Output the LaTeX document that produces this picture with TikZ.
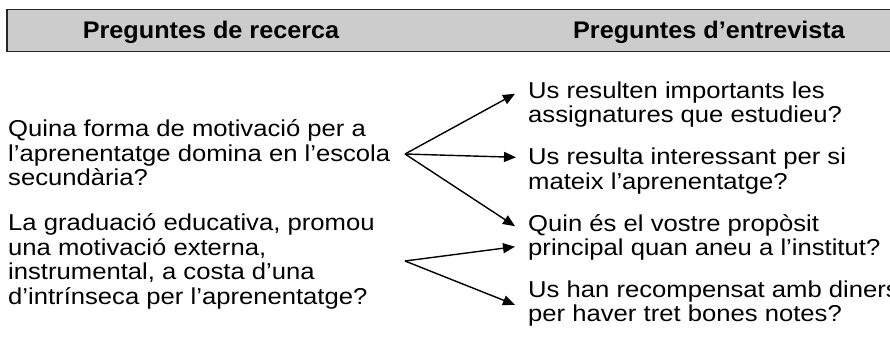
\documentclass[tikz,border=0pt]{standalone}
\usepackage{fontspec}
\setmainfont{Liberation Sans}[FakeStretch=1.115]
\newfontfamily\capfont{Liberation Sans}[FakeStretch=1.05]
\usetikzlibrary{positioning,calc,arrows.meta}

\begin{document}
\begin{tikzpicture}[x=1pt,y=-1pt,
        pregunta/.style={anchor=base west, align=left, inner sep=0pt,
            font=\fontsize{23}{24.5}\selectfont},
        capcal/.style={anchor=base, inner sep=0pt,
            font=\capfont\bfseries\fontsize{24}{28}\selectfont},
        fletxa/.style={line width=1.4pt, -{Triangle[length=12pt,width=10pt]}}]
        \useasboundingbox (0,0) rectangle (890,346);
        \draw[line width=1.5pt, draw=black!85, fill=black!20] (7,9.5) rectangle (894,51.5);
        \node[capcal] (cap1) at (211,38.5) {Preguntes de recerca};
        \node[capcal] (cap2) at (709,38.5) {Preguntes d’entrevista};

        % preguntes de recerca (base = darrera linia)
        \node[pregunta] (rec1) at (8,185.5) {Quina forma de motivació per a\\l’aprenentatge domina en l’escola\\secundària?};
        \node[pregunta] (rec2) at (8,304) {La graduació educativa, promou\\una motivació externa,\\instrumental, a costa d’una\\d’intrínseca per l’aprenentatge?};

        % preguntes d'entrevista
        \node[pregunta] (ent1) at (528,122.5) {Us resulten importants les\\assignatures que estudieu?};
        \node[pregunta] (ent2) at (528,189) {Us resulta interessant per si\\mateix l’aprenentatge?};
        \node[pregunta] (ent3) at (528,255.5) {Quin és el vostre propòsit\\principal quan aneu a l’institut?};
        \node[pregunta] (ent4) at (528,321.5) {Us han recompensat amb diners\\per haver tret bones notes?};

        \coordinate (forq1) at (405,154);
        \coordinate (forq2) at (405,261);

        \draw[fletxa] (forq1) -- ([shift={(-13,-10.5)}]ent1.west);
        \draw[fletxa] (forq1) -- ([shift={(-12,-13.5)}]ent2.west);
        \draw[fletxa] (forq1) -- ([shift={(-13,-11)}]ent3.west);
        \draw[fletxa] (forq2) -- ([shift={(-13,9.5)}]ent3.west);
        \draw[fletxa] (forq2) -- ([shift={(-13,1.5)}]ent4.west);
    \end{tikzpicture}
\end{document}
